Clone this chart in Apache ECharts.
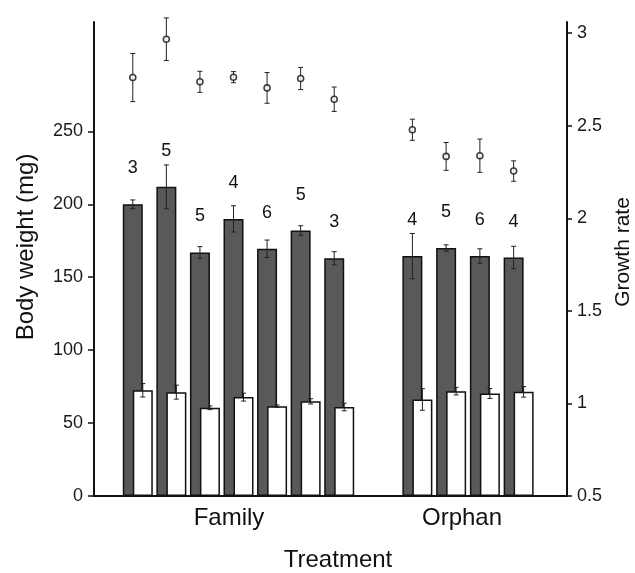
<!DOCTYPE html>
<html>
<head>
<meta charset="utf-8">
<title>Body weight and growth rate by treatment</title>
<script src="https://cdn.jsdelivr.net/npm/echarts@6/dist/echarts.min.js"></script>
<style>
  html, body { margin: 0; padding: 0; background: #fff; }
  #chart { width: 635px; height: 573px; }
</style>
</head>
<body>
<div id="chart"></div>
<script>
// group names on the x axis
const groups = ['Family', 'Orphan']

// sample sizes printed above the dark bars
const familyN = [3, 5, 5, 4, 6, 5, 3]
const orphanN = [4, 5, 6, 4]

// dark bars: body weight (mg), mean and error
const familyDark = [200, 212, 167, 190, 169.5, 182, 163]
const familyDarkErr = [3, 15, 4, 9, 6, 3.3, 4.5]
const orphanDark = [164.5, 170, 164.5, 163.5]
const orphanDarkErr = [15.5, 2.2, 5, 7.7]

// white bars (mg), mean and error
const familyWhite = [72.5, 71.2, 60.5, 67.8, 61.6, 64.9, 61]
const familyWhiteErr = [4.6, 4.8, 1.3, 2.7, 0.8, 1.8, 2.6]
const orphanWhite = [66.2, 71.9, 70.3, 71.4]
const orphanWhiteErr = [7.4, 2.6, 3.4, 3.6]

// open circles: growth rate (right axis), mean and error
const familyGrowth = [2.76, 2.967, 2.737, 2.762, 2.704, 2.755, 2.643]
const familyGrowthErr = [0.13, 0.115, 0.057, 0.03, 0.083, 0.06, 0.066]
const orphanGrowth = [2.478, 2.334, 2.338, 2.255]
const orphanGrowthErr = [0.057, 0.075, 0.09, 0.055]

// axis ticks
const weightTicks = [0, 50, 100, 150, 200, 250]
const growthTicks = [0.5, 1, 1.5, 2, 2.5, 3]

const FONT = "'Liberation Sans', Arial, sans-serif"
const INK = '#111'
const BAR_W = 20
const CAP = 5

const chart = echarts.init(document.getElementById('chart'))

const frame = { top: 22, bottom: 77, outerBoundsMode: 'none', containLabel: false }

const hiddenY = (gridIndex, min, max) => ({
  type: 'value', gridIndex, min, max, show: false, splitLine: { show: false }
})

const memberAxis = (gridIndex, count, prefix, name, pad) => ({
  type: 'category',
  gridIndex,
  data: Array.from({ length: count }, (_, i) => prefix + (i + 1)),
  axisLine: { show: false },
  axisTick: { show: false },
  axisLabel: { show: false },
  splitLine: { show: false },
  name,
  nameLocation: 'middle',
  nameGap: 10,
  nameTextStyle: { fontFamily: FONT, fontSize: 24, color: INK, padding: pad }
})

const errorBars = (xAxisIndex, yAxisIndex, means, errs, offset) => ({
  type: 'custom',
  xAxisIndex,
  yAxisIndex,
  z: 5,
  silent: true,
  clip: false,
  data: means.map((m, i) => [i, m, errs[i]]),
  renderItem: (params, api) => {
    const i = api.value(0)
    const m = api.value(1)
    const e = api.value(2)
    const hi = api.coord([i, m + e])
    const lo = api.coord([i, m - e])
    const x = hi[0] + offset
    const style = { stroke: '#222', lineWidth: 1 }
    return {
      type: 'group',
      children: [
        { type: 'line', shape: { x1: x, y1: hi[1], x2: x, y2: lo[1] }, style },
        { type: 'line', shape: { x1: x - CAP / 2, y1: hi[1], x2: x + CAP / 2, y2: hi[1] }, style },
        { type: 'line', shape: { x1: x - CAP / 2, y1: lo[1], x2: x + CAP / 2, y2: lo[1] }, style }
      ]
    }
  }
})

const darkBars = (xAxisIndex, yAxisIndex, data, n) => ({
  type: 'bar',
  xAxisIndex,
  yAxisIndex,
  data,
  barWidth: BAR_W,
  barGap: '-50%',
  itemStyle: { color: '#595959', borderColor: INK, borderWidth: 1.5 },
  label: {
    show: true,
    position: 'top',
    distance: 27,
    fontFamily: FONT,
    fontSize: 18,
    color: INK,
    formatter: p => n[p.dataIndex]
  },
  silent: true
})

const whiteBars = (xAxisIndex, yAxisIndex, data) => ({
  type: 'bar',
  xAxisIndex,
  yAxisIndex,
  data,
  barWidth: BAR_W,
  barGap: '-50%',
  itemStyle: { color: '#fff', borderColor: INK, borderWidth: 1.5 },
  silent: true
})

const circles = (xAxisIndex, yAxisIndex, data) => ({
  type: 'scatter',
  xAxisIndex,
  yAxisIndex,
  data,
  z: 6,
  symbol: 'circle',
  symbolSize: 6,
  symbolOffset: [-BAR_W / 4, 0],
  itemStyle: { color: '#fff', borderColor: INK, borderWidth: 1.6 },
  silent: true
})

const option = {
  animation: false,
  backgroundColor: '#fff',
  textStyle: { fontFamily: FONT },
  grid: [
    Object.assign({ left: 94, right: 68 }, frame),
    Object.assign({ left: 121, width: 235 }, frame),
    Object.assign({ left: 400.5, width: 135 }, frame)
  ],
  xAxis: [
    {
      type: 'value',
      gridIndex: 0,
      min: 0,
      max: 1,
      axisLine: { show: true, onZero: false, lineStyle: { color: INK, width: 2 } },
      axisTick: { show: false },
      axisLabel: { show: false },
      splitLine: { show: false },
      name: 'Treatment',
      nameLocation: 'middle',
      nameGap: 52,
      nameTextStyle: { fontFamily: FONT, fontSize: 24, color: INK, padding: [0, 0, 0, 15] }
    },
    memberAxis(1, familyN.length, 'F', groups[0], [0, 19, 0, 0]),
    memberAxis(2, orphanN.length, 'O', groups[1], [0, 12, 0, 0])
  ],
  yAxis: [
    {
      type: 'value',
      gridIndex: 0,
      position: 'left',
      min: 0,
      max: 325,
      name: 'Body weight (mg)',
      nameLocation: 'middle',
      nameGap: 56,
      nameTextStyle: { fontFamily: FONT, fontSize: 24, color: INK, padding: [0, 0, 0, 24] },
      axisLine: { show: true, lineStyle: { color: INK, width: 2 } },
      axisTick: { show: true, length: 6, customValues: weightTicks, lineStyle: { color: INK, width: 1.5 } },
      axisLabel: { customValues: weightTicks, margin: 11, fontFamily: FONT, fontSize: 18, color: '#1a1a1a' },
      splitLine: { show: false }
    },
    {
      type: 'value',
      gridIndex: 0,
      position: 'right',
      min: 0.5,
      max: 3.06,
      name: 'Growth rate',
      nameLocation: 'middle',
      nameGap: 46,
      nameTextStyle: { fontFamily: FONT, fontSize: 21, color: INK, padding: [0, 0, 0, 14] },
      axisLine: { show: true, lineStyle: { color: INK, width: 2 } },
      axisTick: { show: true, length: 5, customValues: growthTicks, lineStyle: { color: INK, width: 1.5 } },
      axisLabel: { customValues: growthTicks, margin: 10, fontFamily: FONT, fontSize: 18, color: '#1a1a1a' },
      splitLine: { show: false }
    },
    hiddenY(1, 0, 325),
    hiddenY(1, 0.5, 3.06),
    hiddenY(2, 0, 325),
    hiddenY(2, 0.5, 3.06)
  ],
  series: [
    darkBars(1, 2, familyDark, familyN),
    whiteBars(1, 2, familyWhite),
    errorBars(1, 2, familyDark, familyDarkErr, -BAR_W / 4),
    errorBars(1, 2, familyWhite, familyWhiteErr, BAR_W / 4),
    errorBars(1, 3, familyGrowth, familyGrowthErr, -BAR_W / 4),
    circles(1, 3, familyGrowth),

    darkBars(2, 4, orphanDark, orphanN),
    whiteBars(2, 4, orphanWhite),
    errorBars(2, 4, orphanDark, orphanDarkErr, -BAR_W / 4),
    errorBars(2, 4, orphanWhite, orphanWhiteErr, BAR_W / 4),
    errorBars(2, 5, orphanGrowth, orphanGrowthErr, -BAR_W / 4),
    circles(2, 5, orphanGrowth)
  ]
}

chart.setOption(option)
</script>
</body>
</html>
